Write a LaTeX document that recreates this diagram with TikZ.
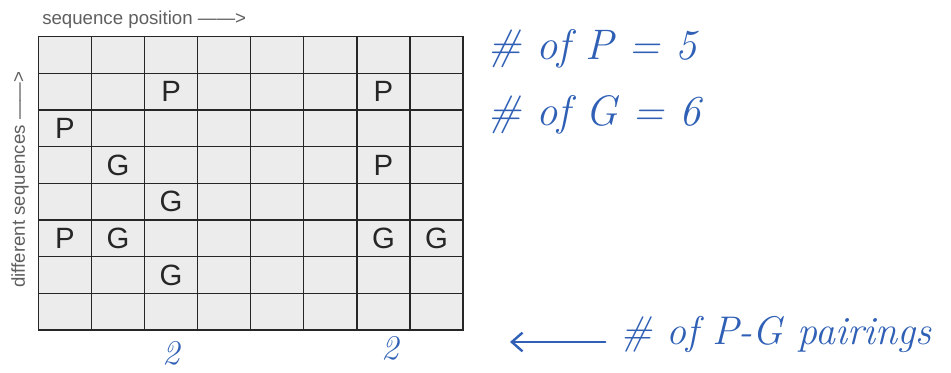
\documentclass[tikz,border=0pt]{standalone}
\usepackage{fontspec}
\setsansfont{Liberation Sans}
\usepackage{xcolor}
\usetikzlibrary{arrows.meta, positioning}
\definecolor{cellgray}{RGB}{236,236,236}
\definecolor{labelgray}{RGB}{95,95,95}
\definecolor{inkblue}{RGB}{47,96,181}
\tikzset{
  cell/.style={rectangle, draw=black!85, line width=1pt, fill=cellgray,
    minimum width=39.8pt, minimum height=27.5pt, inner sep=0pt},
  residue/.style={font=\sffamily\fontsize{22}{24}\selectfont, text=black!85},
  axislabel/.style={font=\sffamily\fontsize{14}{16}\selectfont, text=labelgray, inner sep=0pt},
  ink/.style={text=inkblue, font=\itshape\fontsize{32}{36}\selectfont, inner sep=0pt},
  inkarrow/.style={-{Straight Barb[length=8pt,width=14pt]}, line width=1.8pt,
    draw=inkblue, line cap=round},
}

\begin{document}
\begin{tikzpicture}[x=0.75pt, y=-0.75pt]
  \useasboundingbox (0,0) rectangle (951,373);
  % alignment grid
  \foreach \r in {1,...,8}
    \foreach \c in {1,...,8}
      \node[cell] (c\r-\c) at ({38.3+53.1*(\c-0.5)}, {36.7+36.66*(\r-0.5)}) {};
  \node[residue] (p1) at (c2-3) {P};
  \node[residue] (p2) at (c2-7) {P};
  \node[residue] (p3) at (c3-1) {P};
  \node[residue] (p4) at (c4-7) {P};
  \node[residue] (p5) at (c6-1) {P};
  \node[residue] (g1) at (c4-2) {G};
  \node[residue] (g2) at (c5-3) {G};
  \node[residue] (g3) at (c6-2) {G};
  \node[residue] (g4) at (c6-7) {G};
  \node[residue] (g5) at (c6-8) {G};
  \node[residue] (g6) at (c7-3) {G};
  % axis labels
  \node[axislabel, anchor=base west] (seqpos) at (42,25)
    {sequence position \textemdash\textemdash>};
  \node[axislabel, anchor=base west, rotate=90] (diffseq) at (25,288)
    {different sequences \textemdash\textemdash>};
  % handwritten notes
  \node[ink, anchor=base west] (countp) at (487,60) {\# of P = 5};
  \node[ink, anchor=base west] (countg) at (487,126) {\# of G = 6};
  \node[ink, font=\itshape\fontsize{26}{30}\selectfont] (pairs1) at (171,353) {2};
  \node[ink, font=\itshape\fontsize{26}{30}\selectfont] (pairs2) at (390,348) {2};
  \node[ink, font=\itshape\fontsize{30}{34}\selectfont, anchor=base west] (pairlabel) at (620,345)
    {\# of P-G pairings};
  \coordinate (pairtip) at (510,342);
  \draw[inkarrow] ([xshift=-11pt, yshift=2.25pt]pairlabel.base west) -- (pairtip);
\end{tikzpicture}
\end{document}
